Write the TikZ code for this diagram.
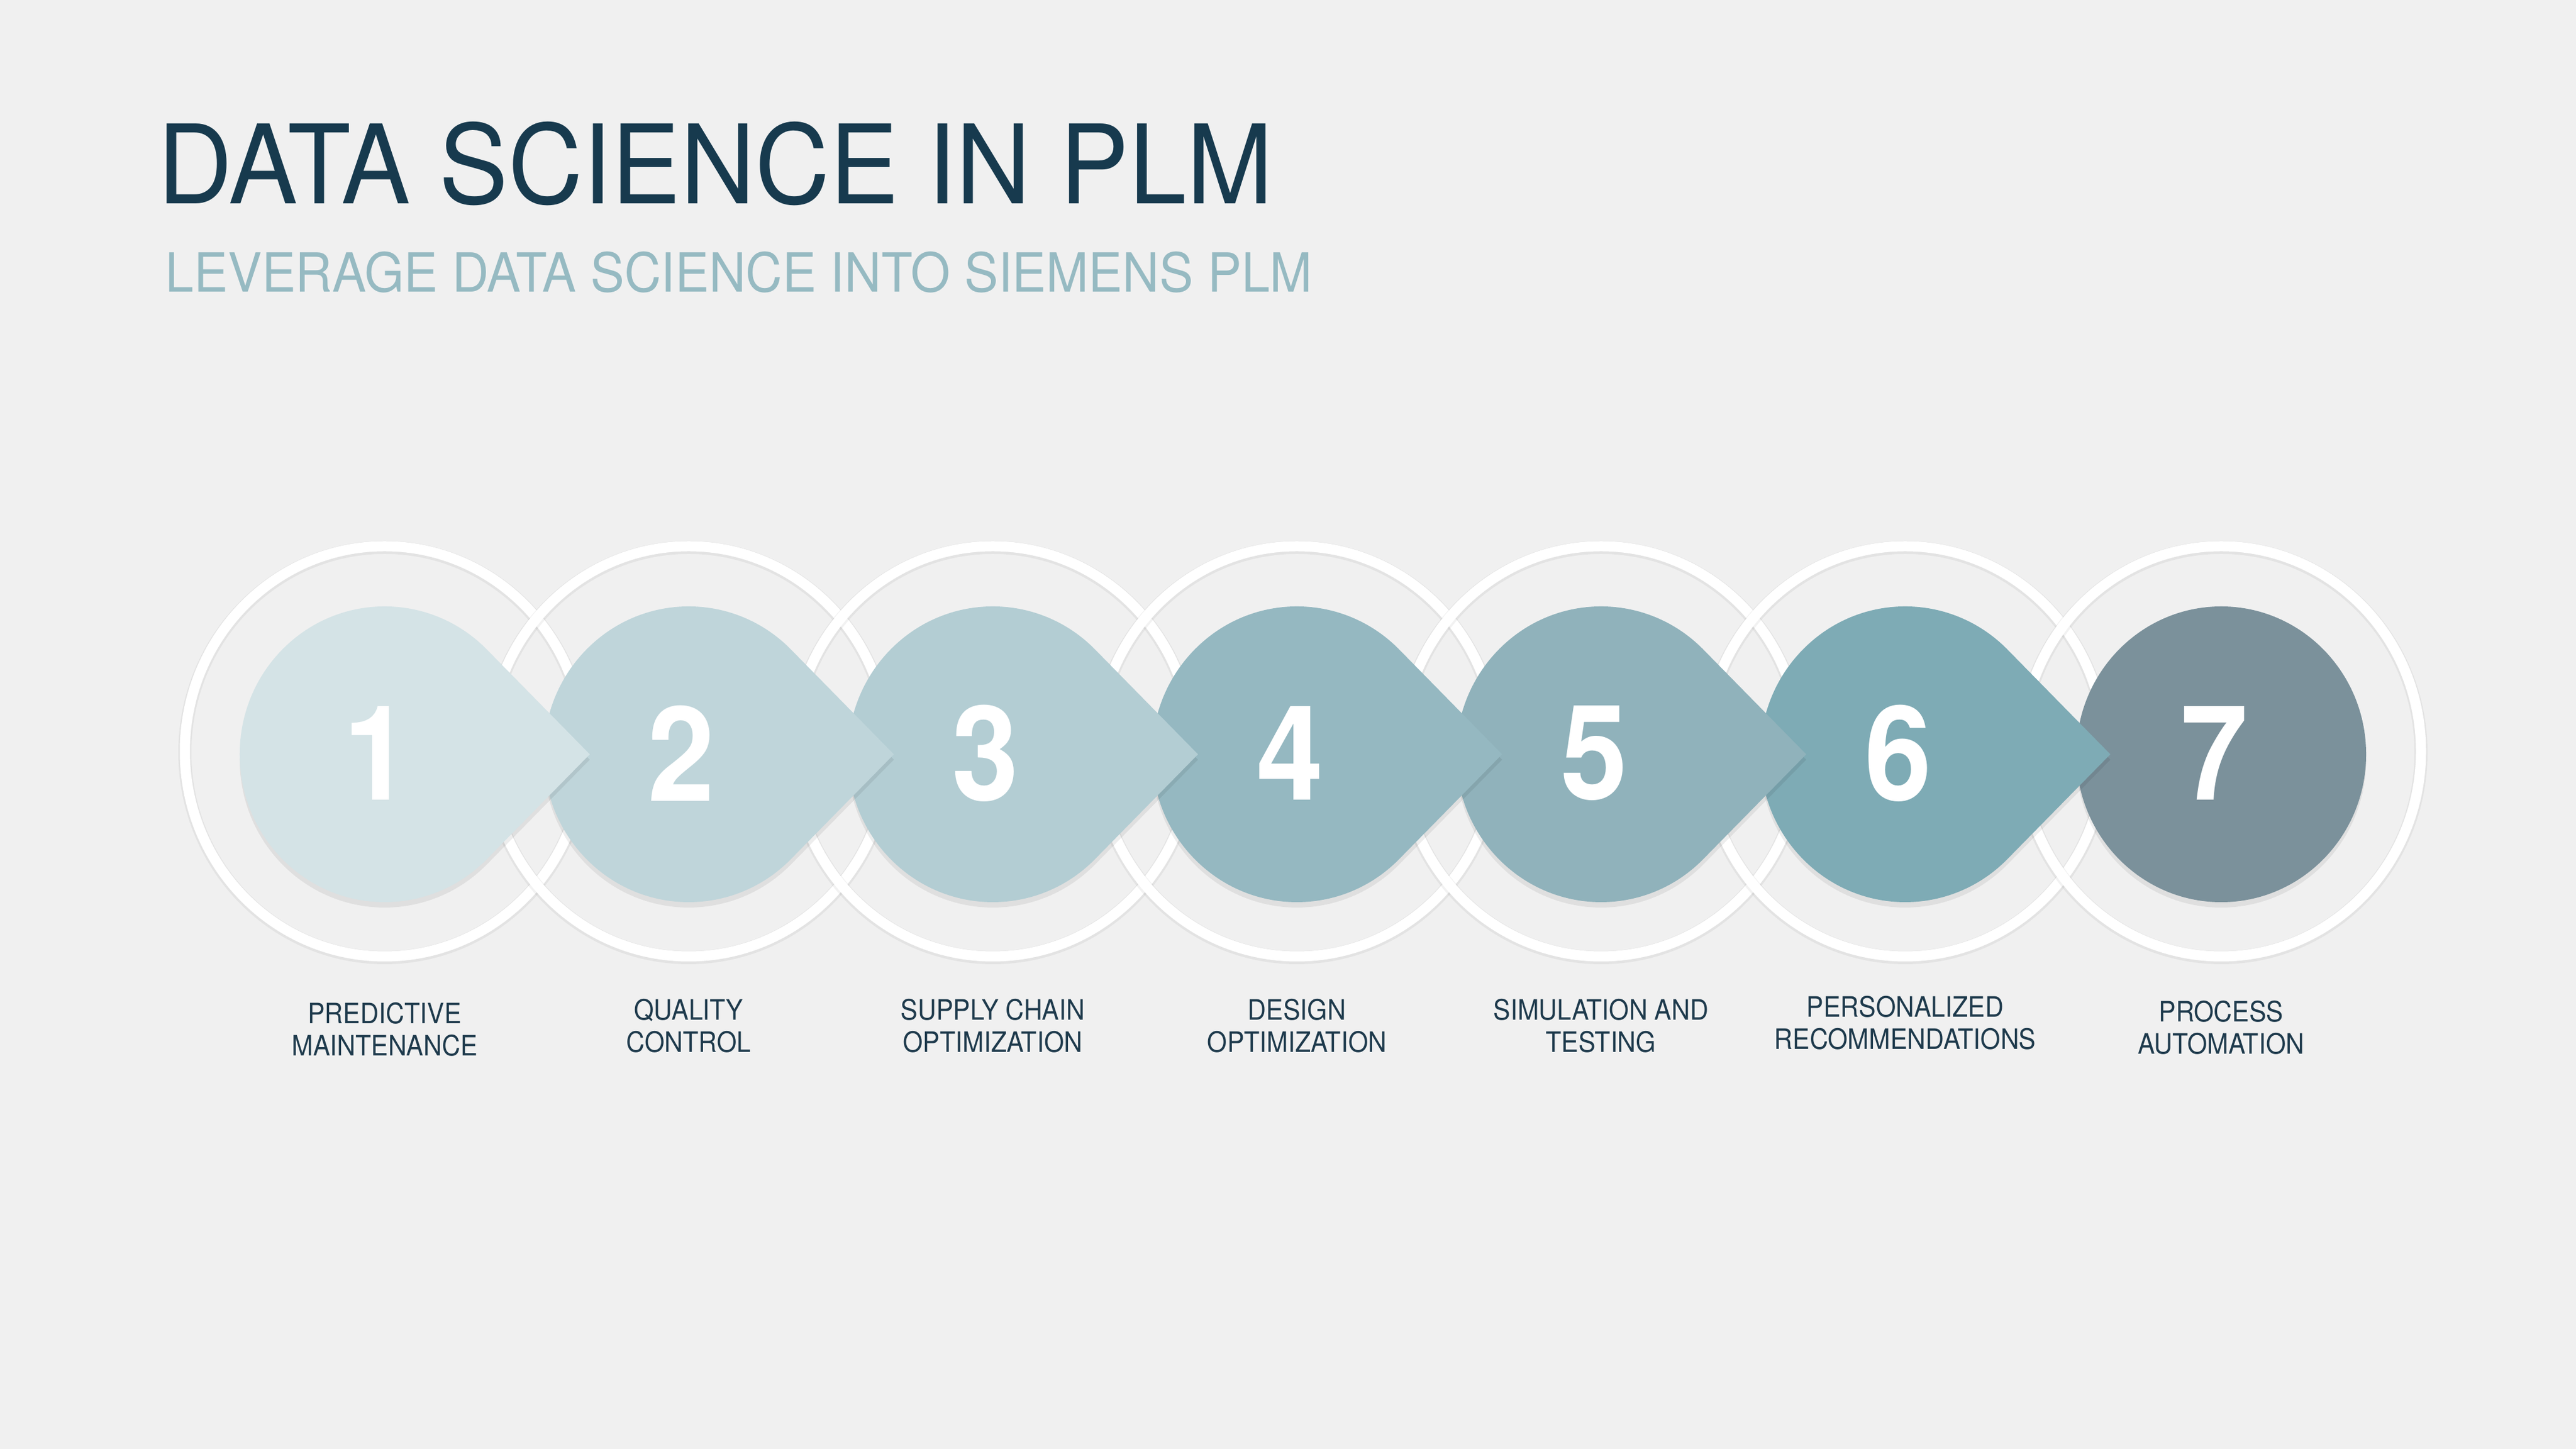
\documentclass[tikz,border=0pt]{standalone}
\usepackage{fontspec}
\setmainfont{TeX Gyre Heros}[FakeStretch=0.91]
\newfontfamily\headfont{TeX Gyre Heros}[FakeStretch=0.945]
\usetikzlibrary{shadows}
\definecolor{bgcol}{HTML}{F0F0F0}
\definecolor{titlecol}{HTML}{173A4E}
\definecolor{subcol}{HTML}{96BAC2}
\definecolor{labelcol}{HTML}{1E3A4C}
\definecolor{stepone}{HTML}{D4E3E6}
\definecolor{steptwo}{HTML}{BFD5DA}
\definecolor{stepthree}{HTML}{B3CDD3}
\definecolor{stepfour}{HTML}{95B8C1}
\definecolor{stepfive}{HTML}{90B2BB}
\definecolor{stepsix}{HTML}{7EABB5}
\definecolor{stepseven}{HTML}{7B919B}
\tikzset{
  ring/.style={draw=white, line width=0.17cm},
  ringshade/.style={draw=black, opacity=0.05, line width=0.22cm},
  drop/.style={fill=#1, drop shadow={shadow xshift=0cm, shadow yshift=-0.09cm, opacity=0.07, fill=black}},
  numtext/.style={text=white, inner sep=0pt, font=\bfseries\fontsize{63}{63}\selectfont},
  steplabel/.style={text=labelcol, align=center, inner sep=0pt, font=\fontsize{13.4}{15.4}\selectfont}
}
\begin{document}
\begin{tikzpicture}
    % background and page size
    \fill[bgcol] (0,0) rectangle (43.2,24.3);
    \useasboundingbox (0,0) rectangle (43.2,24.3);

    % heading
    \node[anchor=base west, inner sep=0pt, text=titlecol, font=\headfont\fontsize{52.3}{60}\selectfont]
        (title) at (2.64,20.88) {DATA SCIENCE IN PLM};
    \node[anchor=base west, inner sep=0pt, text=subcol, font=\headfont\fontsize{25.7}{30}\selectfont]
        (subtitle) at (2.77,19.40) {LEVERAGE DATA SCIENCE INTO SIEMENS PLM};

    % centres of the steps
    \foreach \i/\x in {1/6.45, 2/11.55, 3/16.65, 4/21.75, 5/26.85, 6/31.95, 7/37.25}
        \coordinate (c\i) at (\x,11.65);

    % outer rings
    \foreach \i in {1,...,7} {
        \draw[ringshade] ([yshift=-0.02cm]c\i) ++(0,0.05) ellipse[x radius=3.35cm, y radius=3.44cm];
        \draw[ring] (c\i) ++(0,0.05) ellipse[x radius=3.35cm, y radius=3.44cm];
    }

    % last step is a plain disc
    \fill[drop=stepseven] (c7) ellipse[x radius=2.43cm, y radius=2.48cm];

    % pointed discs, drawn back to front
    \foreach \i/\col in {6/stepsix, 5/stepfive, 4/stepfour, 3/stepthree, 2/steptwo, 1/stepone}
        \fill[drop=\col, shift={(c\i)}]
            (1.718,1.754) arc[start angle=45, end angle=315, x radius=2.43, y radius=2.48]
            -- (3.44,0) -- cycle;

    % numbers
    \foreach \i in {1,...,7}
        \node[numtext] (num\i) at ([xshift=-0.12cm, yshift=0.02cm]c\i) {\i};

    % captions
    \foreach \i/\dy/\txt in {1/0/{PREDICTIVE\\MAINTENANCE}, 2/0.06/{QUALITY\\CONTROL},
            3/0.06/{SUPPLY CHAIN\\OPTIMIZATION}, 4/0.06/{DESIGN\\OPTIMIZATION},
            5/0.06/{SIMULATION AND\\TESTING}, 6/0.11/{PERSONALIZED\\RECOMMENDATIONS},
            7/0.03/{PROCESS\\AUTOMATION}}
        \node[steplabel] (lab\i) at ([yshift=\dy cm]c\i |- 0,7.04) {\txt};
\end{tikzpicture}
\end{document}
